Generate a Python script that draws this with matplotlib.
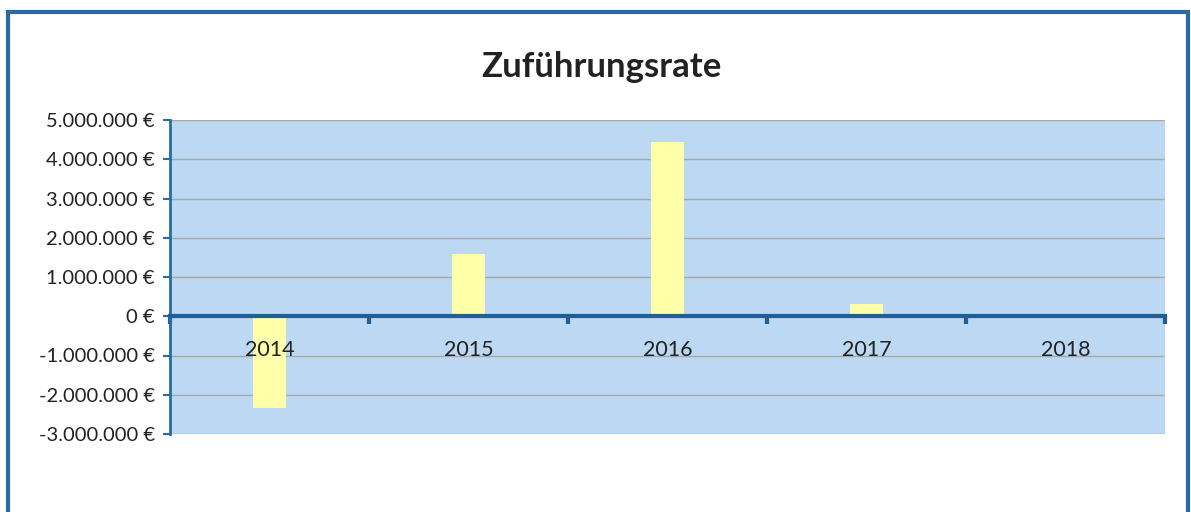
import matplotlib.pyplot as plt
from matplotlib.patches import Rectangle
from matplotlib.ticker import FuncFormatter

years = ['2014', '2015', '2016', '2017', '2018']
values = [-2340000, 1580000, 4430000, 300000, 60000]

plt.rcParams['font.family'] = ['Lato', 'DejaVu Sans']


def euro(v, pos):
    s = '{:,.0f}'.format(v).replace(',', '.')
    return s + ' €'


fig = plt.figure(figsize=(11.91, 5.12), dpi=100)
fig.patch.set_facecolor('white')

# outer chart frame
frame = Rectangle((8 / 1191, -0.05), 1180 / 1191, 1.05 - 12 / 512,
                  transform=fig.transFigure, fill=False,
                  edgecolor='#2A6AA6', linewidth=3, clip_on=False)
fig.patches.append(frame)

ax = fig.add_axes([170 / 1191, 1 - 434 / 512, 995 / 1191, 314 / 512])
ax.set_facecolor('#BCD8F2')

x = list(range(len(years)))
ax.bar(x, values, width=0.17, color='#FFFFAA', zorder=3)

ax.set_xlim(-0.5, len(years) - 0.5)
ax.set_ylim(-3000000, 5000000)
ax.set_yticks(range(-3000000, 5000001, 1000000))
ax.yaxis.set_major_formatter(FuncFormatter(euro))
ax.grid(axis='y', color='#A8A8A8', linewidth=1, zorder=1)

for side in ['top', 'right']:
    ax.spines[side].set_visible(False)
ax.spines['left'].set_color('#2A6AA6')
ax.spines['left'].set_linewidth(2)
ax.spines['bottom'].set_position(('data', 0))
ax.spines['bottom'].set_color('#1F5E96')
ax.spines['bottom'].set_linewidth(3)
ax.spines['bottom'].set_zorder(4)

# boundary ticks on the zero line
ax.set_xticks([i - 0.5 for i in range(len(years) + 1)])
ax.set_xticklabels([])
ax.tick_params(axis='x', direction='out', length=6, width=3, color='#1F5E96')
ax.tick_params(axis='y', direction='out', length=5, width=1.5,
               color='#2A6AA6', labelsize=14.5, labelcolor='#222222', pad=6)

# category labels sit just under the zero line, over the bars
for i, year in enumerate(years):
    ax.annotate(year, xy=(i, 0), xytext=(0, -17), textcoords='offset points',
                ha='center', va='top', fontsize=15.5, color='#222222',
                zorder=5)

fig.text(0.505, 1 - 67 / 512, 'Zuführungsrate', ha='center', va='center',
         fontsize=25, fontweight='bold', color='#222222')

fig.savefig('out.png', dpi=100)
